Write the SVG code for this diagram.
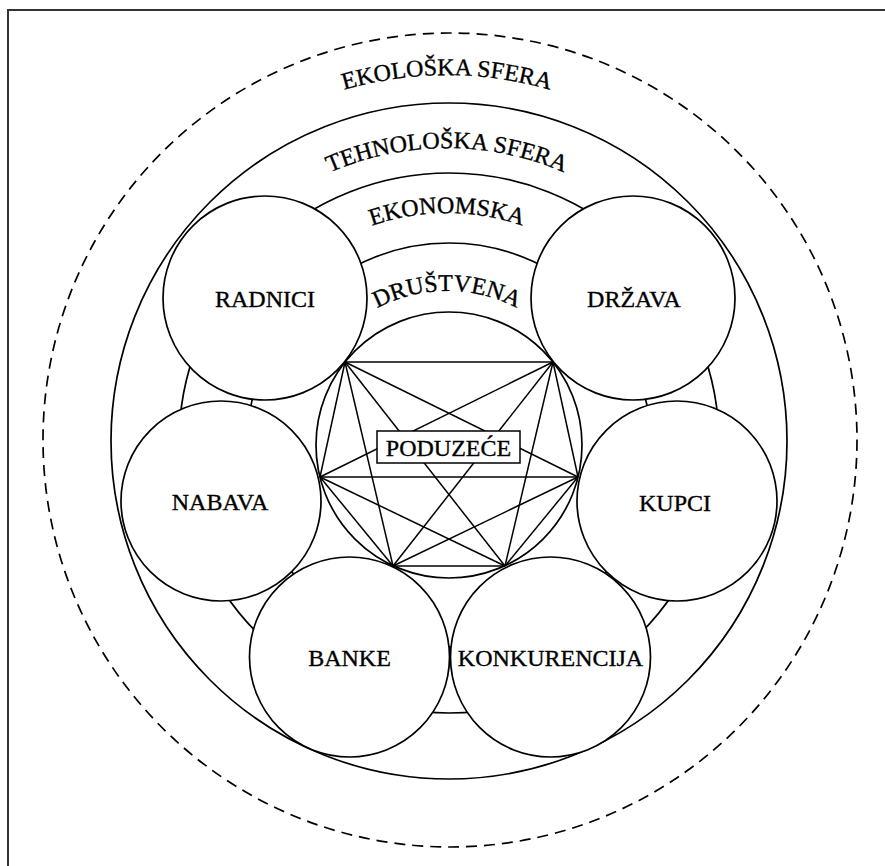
<svg xmlns="http://www.w3.org/2000/svg" width="885" height="866" viewBox="0 0 885 866">
<style>
.ring{fill:none;stroke:#000;stroke-width:1.7}
.dash{fill:none;stroke:#000;stroke-width:1.7;stroke-dasharray:11 7}
.node{fill:#fff;stroke:#000;stroke-width:1.7}
.lbl{font-family:"Liberation Serif","Times New Roman",serif;font-size:24px;fill:#000;stroke:#000;stroke-width:0.35;text-anchor:middle}
.conn line{stroke:#000;stroke-width:1.5}
</style>
<defs>
<path id="p1" d="M 81 441 A 366 366 0 0 1 813 441"/>
<path id="p2" d="M 154 441 A 293 293 0 0 1 740 441"/>
<path id="p3" d="M 219 441 A 228 228 0 0 1 675 441"/>
<path id="p4" d="M 297 441 A 150 150 0 0 1 597 441"/>
</defs>
<rect width="885" height="866" fill="#fff"/>
<path d="M 8 866 V 10 H 885" fill="none" stroke="#333" stroke-width="2"/>
<g id="rings">
<circle class="dash" cx="450" cy="440" r="407"/>
<circle class="ring" cx="449" cy="441" r="338"/>
<circle class="ring" cx="449" cy="443" r="270"/>
<circle class="ring" cx="449" cy="445" r="202"/>
<circle class="ring" cx="449" cy="445" r="133"/>
</g>
<g id="ring-labels" class="lbl">
<text><textPath href="#p1" startOffset="50%">EKOLOŠKA SFERA</textPath></text>
<text><textPath href="#p2" startOffset="50%">TEHNOLOŠKA SFERA</textPath></text>
<text><textPath href="#p3" startOffset="50%">EKONOMSKA</textPath></text>
<text><textPath href="#p4" startOffset="50%">DRUŠTVENA</textPath></text>
</g>
<g id="connectors" class="conn">
<line x1="345" y1="362" x2="553" y2="362"/>
<line x1="345" y1="362" x2="320" y2="477"/>
<line x1="345" y1="362" x2="578" y2="477"/>
<line x1="345" y1="362" x2="393" y2="566"/>
<line x1="345" y1="362" x2="505" y2="566"/>
<line x1="553" y1="362" x2="320" y2="477"/>
<line x1="553" y1="362" x2="578" y2="477"/>
<line x1="553" y1="362" x2="393" y2="566"/>
<line x1="553" y1="362" x2="505" y2="566"/>
<line x1="320" y1="477" x2="578" y2="477"/>
<line x1="320" y1="477" x2="393" y2="566"/>
<line x1="320" y1="477" x2="505" y2="566"/>
<line x1="578" y1="477" x2="393" y2="566"/>
<line x1="578" y1="477" x2="505" y2="566"/>
<line x1="393" y1="566" x2="505" y2="566"/>
</g>
<g id="radnici"><circle class="node" cx="265" cy="298" r="102"/><text class="lbl" x="265" y="307">RADNICI</text></g>
<g id="drzava"><circle class="node" cx="633" cy="298" r="102"/><text class="lbl" x="634" y="307">DRŽAVA</text></g>
<g id="nabava"><circle class="node" cx="221" cy="501" r="100"/><text class="lbl" x="220" y="510">NABAVA</text></g>
<g id="kupci"><circle class="node" cx="677" cy="501" r="100"/><text class="lbl" x="675" y="511">KUPCI</text></g>
<g id="banke"><circle class="node" cx="349.5" cy="657" r="100"/><text class="lbl" x="349.5" y="666">BANKE</text></g>
<g id="konkurencija"><circle class="node" cx="550.5" cy="657" r="100"/><text class="lbl" x="550.5" y="666">KONKURENCIJA</text></g>
<g id="poduzece"><rect x="377" y="431" width="143" height="32" fill="#fff" stroke="#000" stroke-width="1.5"/><text class="lbl" x="448.5" y="456">PODUZEĆE</text></g>
</svg>
